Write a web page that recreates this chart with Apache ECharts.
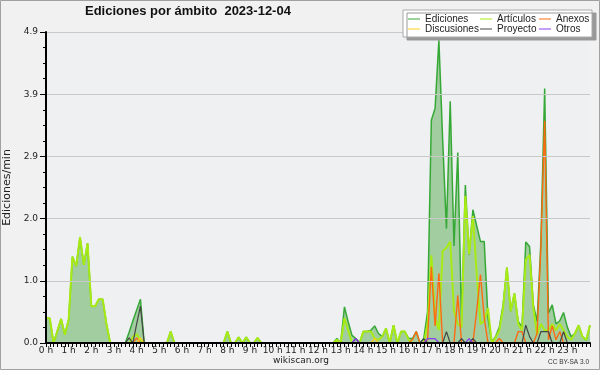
<!DOCTYPE html>
<html><head><meta charset="utf-8">
<script src="https://cdn.jsdelivr.net/npm/echarts@6/dist/echarts.min.js"></script>
<style>html,body{margin:0;padding:0;background:#f1f1f1}#c{width:600px;height:370px}</style>
</head><body><div id="c"></div>
<script>
// Hour tick labels (one every 6 ten-minute slots)
const HOUR_LABELS = ['0 h','1 h','2 h','3 h','4 h','5 h','6 h','7 h','8 h','9 h','10 h','11 h',
  '12 h','13 h','14 h','15 h','16 h','17 h','18 h','19 h','20 h','21 h','22 h','23 h'];
// Ten-minute categories 0:00 .. 24:00
const TIMES = [];
for (let h = 0; h < 24; h++) for (let m = 0; m < 60; m += 10) TIMES.push(h + ':' + (m < 10 ? '0' : '') + m);
TIMES.push('24:00');

const SERIES_NAMES = ['Ediciones','Artículos','Anexos','Discusiones','Proyecto','Otros'];

// Edits per minute, one value every 10 minutes (145 values)
const EDICIONES = [
  .39,.39,0,.19,.38,.13,.37,1.36,1.21,1.67,1.23,1.57,
  .58,.58,.69,.69,.3,0,0,0,0,0,.17,.35,
  .52,.69,0,0,0,0,0,0,0,.18,0,0,
  0,0,0,0,0,0,0,0,0,0,0,0,
  .18,0,0,.09,0,.09,0,0,.08,0,0,0,
  0,0,0,0,0,0,0,0,0,0,0,0,
  0,0,0,0,0,.07,0,.57,.33,.12,.07,0,
  .18,.18,.2,.27,.15,.1,.23,0,.28,0,.18,.18,
  .07,.07,.18,0,.07,.49,3.51,3.7,4.77,3.2,1.8,3.81,
  1.53,3.0,.35,2.49,1.39,2.1,1.85,1.6,1.6,.39,.02,.1,
  .25,.6,1.19,.5,.78,.34,.25,1.59,1.52,.6,.34,1.6,
  4.01,.47,.6,.3,.35,.48,.25,.1,.15,.28,.1,.05,
  .28
];
const ARTICULOS = [
  .39,.39,0,.19,.38,.13,.37,1.36,1.21,1.67,1.23,1.57,
  .58,.58,.69,.69,.3,0,0,0,0,0,0,.1,
  .14,.05,0,0,0,0,0,0,0,.18,0,0,
  0,0,0,0,0,0,0,0,0,0,0,0,
  .18,0,0,.09,0,.09,0,0,.08,0,0,0,
  0,0,0,0,0,0,0,0,0,0,0,0,
  0,0,0,0,0,.05,0,.39,.2,0,0,0,
  .18,.18,.18,.07,.05,.1,.23,0,.28,0,.18,.18,
  .05,0,0,0,0,.3,1.38,.4,.2,1.45,1.5,1.6,
  .5,.3,.25,2.32,1.4,2.0,1.1,.3,.35,.55,0,.08,
  .2,.55,1.19,.5,.78,.3,.2,1.31,1.39,.55,.13,.3,
  .2,.2,.3,.2,.3,.2,.1,.05,.15,.28,.1,.05,
  .28
];
const ANEXOS = [
  0,0,0,0,0,0,0,0,0,0,0,0,
  0,0,0,0,0,0,0,0,0,0,0,0,
  .08,0,0,0,0,0,0,0,0,0,0,0,
  0,0,0,0,0,0,0,0,0,0,0,0,
  0,0,0,0,0,0,0,0,0,0,0,0,
  0,0,0,0,0,0,0,0,0,0,0,0,
  0,0,0,0,0,0,0,0,0,0,0,0,
  0,0,0,0,0,0,0,0,0,0,0,0,
  0,.05,.18,0,0,.05,1.2,.27,1.1,0,0,0,
  0,.75,0,0,0,0,.5,1.08,.4,0,0,0,
  .07,0,0,0,0,.18,.18,0,0,0,.15,1.5,
  3.5,.05,.27,.05,.18,0,0,0,0,0,0,0,
  0
];
const DISCUSIONES = [
  0,0,0,0,0,0,0,0,0,0,0,0,
  0,0,0,0,0,0,0,0,0,0,0,0,
  0,.08,0,0,0,0,0,0,0,0,0,0,
  0,0,0,0,0,0,0,0,0,0,0,0,
  0,0,0,0,0,0,0,0,0,0,0,0,
  0,0,0,0,0,0,0,0,0,0,0,0,
  0,0,0,0,0,0,0,0,0,0,0,0,
  0,0,0,.07,0,0,0,0,0,0,0,0,
  0,0,0,0,0,0,0,0,0,0,0,0,
  0,0,0,0,0,0,0,0,0,0,0,0,
  0,0,0,0,0,0,0,0,0,0,0,0,
  0,0,0,0,0,0,0,0,0,0,0,0,
  0
];
const PROYECTO = [
  0,0,0,0,0,0,0,0,0,0,0,0,
  0,0,0,0,0,0,0,0,0,0,.08,0,
  .3,.58,0,0,0,0,0,0,0,0,0,0,
  0,0,0,0,0,0,0,0,0,0,0,0,
  0,0,0,0,0,0,0,0,0,0,0,0,
  0,0,0,0,0,0,0,0,0,0,0,0,
  0,0,0,0,0,0,0,0,0,0,.07,0,
  0,0,0,0,0,0,0,0,0,0,0,0,
  0,0,0,0,.07,0,0,0,0,0,.18,0,
  0,0,.07,0,0,.07,0,0,0,0,0,0,
  0,0,0,0,0,0,0,.28,.1,0,0,.18,
  .18,.18,0,0,0,.18,0,0,0,0,0,0,
  0
];
const OTROS = [
  0,0,0,0,0,0,0,0,0,0,0,0,
  0,0,0,0,0,0,0,0,0,0,0,0,
  0,0,0,0,0,0,0,0,0,0,0,0,
  0,0,0,0,0,0,0,0,0,0,0,0,
  0,0,0,0,0,0,0,0,0,0,0,0,
  0,0,0,0,0,0,0,0,0,0,0,0,
  0,0,0,0,0,0,0,0,0,0,.07,0,
  0,0,0,0,0,0,0,0,0,0,0,0,
  0,0,0,0,0,.07,.07,.07,0,0,0,0,
  0,0,0,0,.07,0,0,0,0,0,0,0,
  0,0,0,0,0,0,0,0,0,0,0,0,
  0,0,0,0,0,0,0,0,0,0,0,0,
  0
];
const Y_MAX = 4.9;
const Y_STEP = 0.98;

const COLORS = ['#36a836','#a8ea14','#ff6a10','#ffcc22','#444444','#8a3cf0'];
const WIDTHS = [1.5, 2, 1.4, 1.2, 1.2, 1.2];
const VALUES = [EDICIONES, ARTICULOS, ANEXOS, DISCUSIONES, PROYECTO, OTROS];

const chart = echarts.init(document.getElementById('c'), null, {renderer: 'canvas'});

const legendPos = [[408,13],[480,13],[539,13],[408,23],[480,23],[539,23]];
const legendOrder = ['Ediciones','Artículos','Anexos','Discusiones','Proyecto','Otros'];

const series = SERIES_NAMES.map((n, k) => {
  const s = {
    name: n, type: 'line', data: VALUES[k], symbol: 'none', showSymbol: false,
    lineStyle: {color: COLORS[k], width: WIDTHS[k]},
    itemStyle: {color: COLORS[k]},
    z: 2 + k, animation: false
  };
  if (k === 0) s.areaStyle = {color: '#a1cda1', opacity: 1};
  return s;
});

const option = {
  animation: false,
  backgroundColor: '#f1f1f1',
  title: {
    text: 'Ediciones por ámbito  2023-12-04', left: 85, top: 5, padding: 0,
    textStyle: {fontFamily: 'Liberation Sans', fontWeight: 'bold', fontSize: 13, color: '#111'}
  },
  legend: legendOrder.map((n, k) => ({
    data: [n], left: legendPos[k][0], top: legendPos[k][1], padding: 0,
    icon: 'rect', itemWidth: 12, itemHeight: 1, selectedMode: false, z: 21,
    textStyle: {fontFamily: 'Liberation Sans', fontSize: 10, color: '#222', lineHeight: 12}
  })),
  grid: {left: 46, right: 10, top: 32, bottom: 27, show: true, backgroundColor: '#eef0f2', borderWidth: 0,
         containLabel: false, outerBoundsMode: 'none'},
  xAxis: {
    type: 'category', data: TIMES, boundaryGap: false, z: 10,
    axisLine: {lineStyle: {color: '#000', width: 2}},
    axisTick: {show: true, interval: 0, length: 4, lineStyle: {color: '#000', width: 1}},
    axisLabel: {
      interval: (i) => i % 6 === 0 && i < 144,
      formatter: (v, i) => HOUR_LABELS[i / 6] || '',
      fontFamily: 'DejaVu Sans', fontSize: 9, color: '#222', margin: 3
    },
    splitLine: {show: false}
  },
  yAxis: {
    type: 'value', min: 0, max: Y_MAX, interval: Y_STEP, z: 10,
    name: 'Ediciones/min', nameLocation: 'middle', nameGap: 27,
    nameTextStyle: {fontFamily: 'DejaVu Sans', fontSize: 11, color: '#222'},
    axisLine: {show: true, lineStyle: {color: '#000', width: 2}},
    axisTick: {show: true, length: 6, lineStyle: {color: '#000'}},
    minorTick: {show: true, splitNumber: 4, length: 3, lineStyle: {color: '#000'}},
    axisLabel: {formatter: (v) => v.toFixed(1), fontFamily: 'DejaVu Sans', fontSize: 9, color: '#222', margin: 8},
    splitLine: {show: true, lineStyle: {color: '#c9c9c9', width: 1}}
  },
  series: series,
  graphic: [
    {type: 'rect', z: 20, shape: {x: 403, y: 10, width: 189, height: 27},
     style: {fill: '#fff', stroke: '#aaa', lineWidth: 1, shadowColor: '#999', shadowOffsetX: 4, shadowOffsetY: 3, shadowBlur: 0}},
    {type: 'text', z: 20, x: 301, y: 361,
     style: {text: 'wikiscan.org', fill: '#222', font: '9px "DejaVu Sans"', textAlign: 'center', textVerticalAlign: 'middle'}},
    {type: 'text', z: 20, x: 589, y: 362,
     style: {text: 'CC BY-SA 3.0', fill: '#333', font: '6.5px "Liberation Sans"', textAlign: 'right', textVerticalAlign: 'middle'}},
    {type: 'rect', z: 30, shape: {x: 0.5, y: 0.5, width: 599, height: 369},
     style: {fill: null, stroke: '#a0a0a0', lineWidth: 1}}
  ]
};
chart.setOption(option);
</script></body></html>
